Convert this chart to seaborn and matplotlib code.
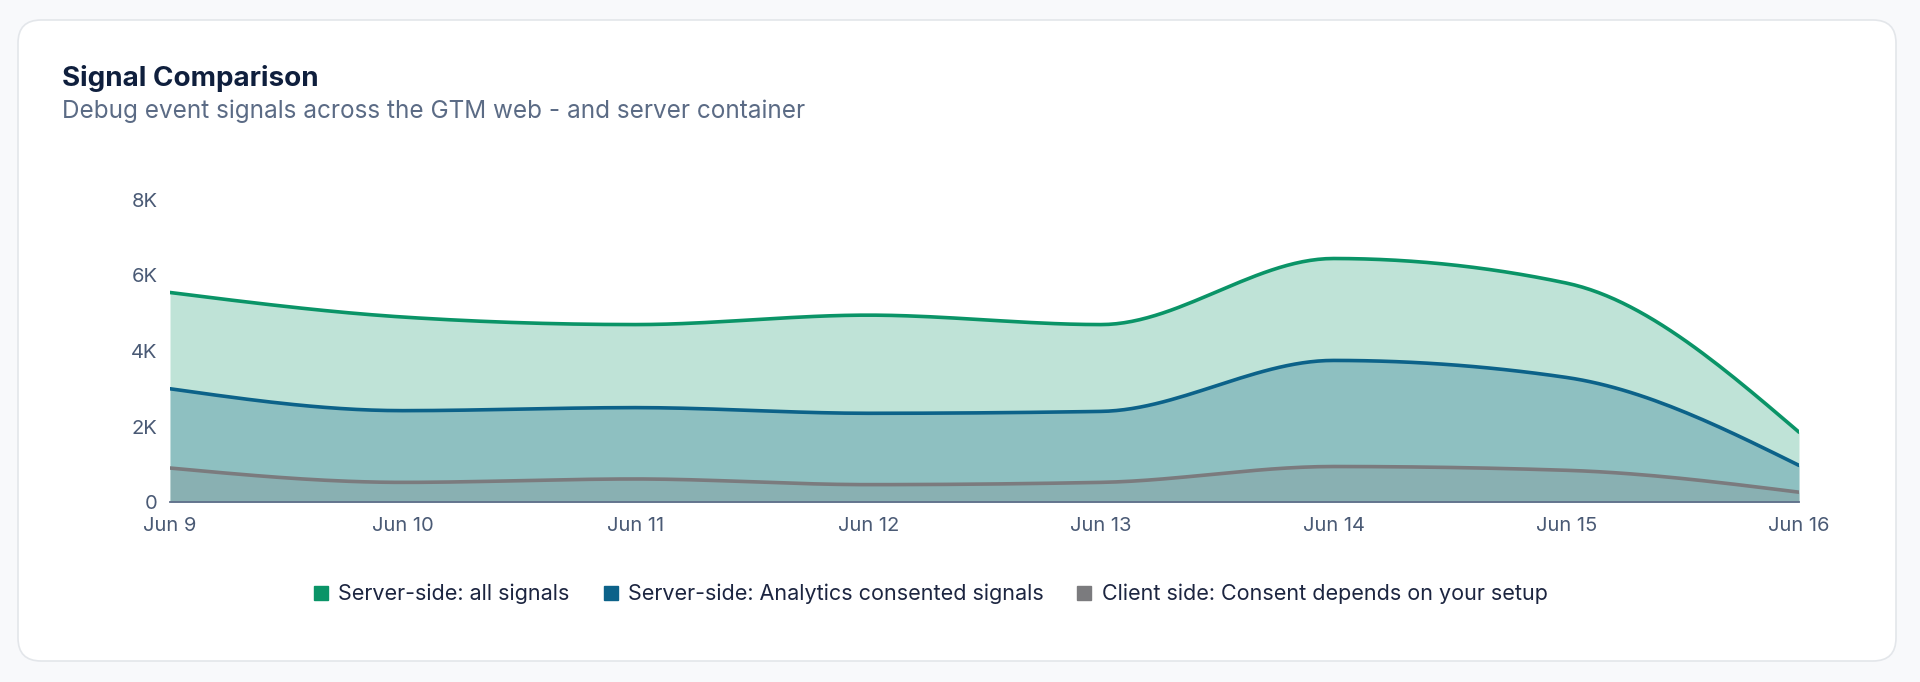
import numpy as np
import pandas as pd
import seaborn as sns
from matplotlib import pyplot as plt
from matplotlib.patches import FancyBboxPatch
from matplotlib.lines import Line2D
import matplotlib.ticker as mtick

dates = ['Jun 9', 'Jun 10', 'Jun 11', 'Jun 12', 'Jun 13', 'Jun 14', 'Jun 15', 'Jun 16']
all_signals = [5550, 4900, 4700, 4950, 4700, 6450, 5800, 1850]
analytics_signals = [3000, 2420, 2500, 2350, 2400, 3750, 3300, 970]
client_signals = [900, 520, 610, 460, 520, 940, 840, 260]

series_names = ['Server-side: all signals',
                'Server-side: Analytics consented signals',
                'Client side: Consent depends on your setup']
colors = ['#0a9467', '#0c6289', '#7b7b7e']
fill_alpha = [0.26, 0.27, 0.22]


def monotone_curve(y, steps=30):
    # monotone cubic (like d3 curveMonotoneX) on evenly spaced x
    y = np.asarray(y, dtype=float)
    n = len(y)
    s = np.diff(y)
    m = np.zeros(n)
    for k in range(1, n - 1):
        s0, s1 = s[k - 1], s[k]
        p = (s0 + s1) / 2
        m[k] = (np.sign(s0) + np.sign(s1)) * min(abs(s0), abs(s1), 0.5 * abs(p))
    m[0] = (3 * s[0] - m[1]) / 2
    m[-1] = (3 * s[-1] - m[-2]) / 2
    xs, ys = [], []
    for k in range(n - 1):
        t = np.linspace(0, 1, steps, endpoint=(k == n - 2))
        h00 = 2 * t**3 - 3 * t**2 + 1
        h10 = t**3 - 2 * t**2 + t
        h01 = -2 * t**3 + 3 * t**2
        h11 = t**3 - t**2
        xs.append(k + t)
        ys.append(h00 * y[k] + h10 * m[k] + h01 * y[k + 1] + h11 * m[k + 1])
    return np.concatenate(xs), np.concatenate(ys)


frames = []
for name, vals in zip(series_names, [all_signals, analytics_signals, client_signals]):
    xs, ys = monotone_curve(vals)
    frames.append(pd.DataFrame({'x': xs, 'value': ys, 'series': name}))
df = pd.concat(frames, ignore_index=True)

sns.set_style('white')
plt.rcParams['font.family'] = ['Inter', 'DejaVu Sans']

fig = plt.figure(figsize=(19.2, 6.82), dpi=100)
fig.patch.set_facecolor('#f8f9fb')

card = FancyBboxPatch((18 / 1920, 1 - 661 / 682), (1896 - 18) / 1920, (661 - 20) / 682,
                      boxstyle='round,pad=0,rounding_size=0.012',
                      transform=fig.transFigure, facecolor='white',
                      edgecolor='#e3e6ea', linewidth=1.2, zorder=-5,
                      mutation_aspect=1920 / 682)
fig.patches.append(card)

ax = fig.add_axes([170 / 1920, 1 - 502 / 682, (1799 - 170) / 1920, (502 - 200) / 682])
ax.set_zorder(2)
ax.patch.set_alpha(0)

for name, col, a in zip(series_names, colors, fill_alpha):
    sub = df[df.series == name]
    ax.fill_between(sub.x, 0, sub.value, color=col, alpha=a, linewidth=0, zorder=1)

sns.lineplot(data=df, x='x', y='value', hue='series', palette=colors,
             linewidth=2.6, legend=False, ax=ax, sort=False, zorder=3)

ax.set_xlim(0, len(dates) - 1)
ax.set_ylim(0, 8000)
ax.set_xticks(range(len(dates)))
ax.set_xticklabels(dates)
ax.set_yticks([0, 2000, 4000, 6000, 8000])
ax.yaxis.set_major_formatter(mtick.FuncFormatter(lambda v, p: '0' if v == 0 else f'{int(v / 1000)}K'))
ax.set_xlabel('')
ax.set_ylabel('')
for sp in ['top', 'right', 'left']:
    ax.spines[sp].set_visible(False)
ax.spines['bottom'].set_color('#5f6f8a')
ax.spines['bottom'].set_linewidth(1.3)
ax.tick_params(axis='x', colors='#5f6f8a', labelcolor='#4a5a75', length=7, width=1.3,
               labelsize=14.5, pad=4)
ax.tick_params(axis='y', length=0, labelcolor='#4a5a75', labelsize=14.5, pad=9)

fig.text(62 / 1920, 1 - 78 / 682, 'Signal Comparison', fontsize=20, fontweight='bold',
         color='#0f1f3d', va='center', ha='left')
fig.text(62 / 1920, 1 - 111 / 682, 'Debug event signals across the GTM web - and server container',
         fontsize=17.5, color='#5b6b85', va='center', ha='left')

handles = [Line2D([], [], marker='s', linestyle='none', markersize=10, markerfacecolor=c,
                  markeredgecolor=c) for c in colors]
fig.legend(handles, series_names, loc='center', bbox_to_anchor=(930 / 1920, 1 - 594 / 682),
           ncol=3, frameon=False, fontsize=15.5, handletextpad=0.4, columnspacing=1.5,
           labelcolor='#1c2540', handlelength=0.8)

fig.savefig('out.png', dpi=100, facecolor=fig.get_facecolor())
